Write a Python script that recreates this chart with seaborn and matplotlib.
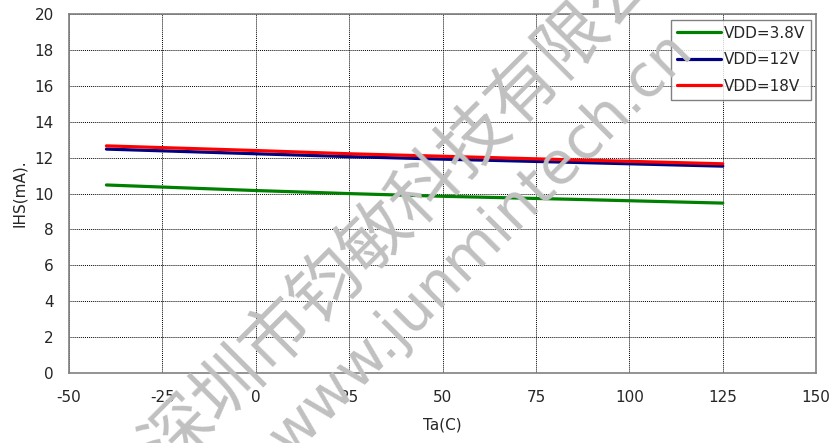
import pandas as pd
import numpy as np
import matplotlib
matplotlib.use("Agg")
import matplotlib.pyplot as plt
import seaborn as sns
from matplotlib.lines import Line2D

# temperatures and supply current readings
ta = [-40, 0, 25, 50, 85, 125]
ihs_3v8 = [10.48, 10.17, 10.0, 9.85, 9.68, 9.47]
ihs_12v = [12.48, 12.22, 12.06, 11.92, 11.74, 11.53]
ihs_18v = [12.66, 12.40, 12.22, 12.08, 11.88, 11.66]
series_names = ["VDD=3.8V", "VDD=12V", "VDD=18V"]
series_colors = ["#008000", "#000080", "#ff0000"]
x_ticks = [-50, -25, 0, 25, 50, 75, 100, 125, 150]
y_ticks = [0, 2, 4, 6, 8, 10, 12, 14, 16, 18, 20]

df = pd.DataFrame({
    "Ta": ta * 3,
    "IHS": ihs_3v8 + ihs_12v + ihs_18v,
    "VDD": [series_names[0]] * len(ta) + [series_names[1]] * len(ta) + [series_names[2]] * len(ta),
})

sns.set_style("white")
plt.rcParams['font.family'] = ['DejaVu Sans', 'Noto Sans CJK SC']
plt.rcParams['axes.unicode_minus'] = False

fig, ax = plt.subplots(figsize=(8.32, 4.43), dpi=100)
fig.subplots_adjust(left=0.083, right=0.981, top=0.968, bottom=0.158)

sns.lineplot(data=df, x="Ta", y="IHS", hue="VDD", palette=series_colors,
             linewidth=2.3, ax=ax, zorder=3, legend=False)

ax.set_xlim(-50, 150)
ax.set_ylim(0, 20)
ax.set_xticks(x_ticks)
ax.set_yticks(y_ticks)
ax.tick_params(axis='x', labelsize=11, length=0, pad=12)
ax.tick_params(axis='y', labelsize=11, length=0, pad=11)
ax.grid(True, color='black', linestyle=(0, (1, 1)), linewidth=0.7)
for s in ax.spines.values():
    s.set_color('#808080')
    s.set_linewidth(1.2)
ax.set_xlabel("Ta(C)", fontsize=11, labelpad=9)
ax.set_ylabel("IHS(mA).", fontsize=11, labelpad=5)

handles = [Line2D([], [], color=c, linewidth=2.3) for c in series_colors]
leg = ax.legend(handles, series_names, loc='upper right', fontsize=11, frameon=True,
                fancybox=False, handlelength=2.9, handletextpad=0.15, borderaxespad=0.35,
                labelspacing=0.75, borderpad=0.4)
leg.get_frame().set_edgecolor('#606060')
leg.get_frame().set_linewidth(1.0)
leg.set_zorder(5)

# watermark
fig.text(0.512, 0.575, "深圳市钧敏科技有限公司", fontsize=50, color='#c0c0c0',
         rotation=45, ha='center', va='center', rotation_mode='anchor',
         family=['Noto Sans CJK SC'], zorder=10)
fig.text(0.578, 0.45, "www.junmintech.cn", fontsize=42, color='#c0c0c0',
         rotation=45, ha='center', va='center', rotation_mode='anchor', zorder=10)

fig.savefig("out.png", dpi=100)
